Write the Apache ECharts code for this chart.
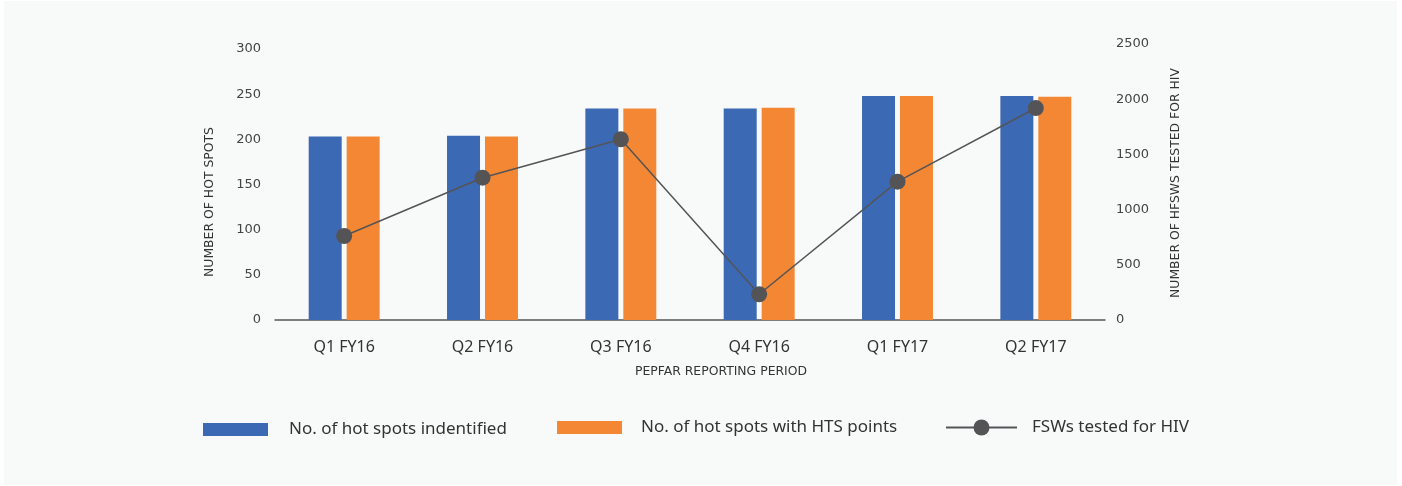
<!DOCTYPE html>
<html>
<head>
<meta charset="utf-8">
<script src="https://cdn.jsdelivr.net/npm/echarts@6/dist/echarts.min.js"></script>
<style>
  html, body { margin: 0; padding: 0; background: #fff; }
  #chart { width: 1402px; height: 486px; }
</style>
</head>
<body>
<div id="chart"></div>
<script>
const categories = ['Q1 FY16', 'Q2 FY16', 'Q3 FY16', 'Q4 FY16', 'Q1 FY17', 'Q2 FY17']
const hotSpots = [203, 204, 234, 234, 248, 248]
const hotSpotsHts = [203, 203, 234, 235, 248, 247]
const fswTested = [761, 1289, 1637, 233, 1253, 1920]

const blue = '#3c69b3'
const orange = '#f48733'
const grey = '#545456'
const font = 'Noto Sans'
const capsFont = 'DejaVu Sans'

const myChart = echarts.init(document.getElementById('chart'))

// rotated / offset axis titles are drawn as graphic text
function axisTitle(text, x, y, rotation) {
    return {
        type: 'text',
        x: x,
        y: y,
        rotation: rotation,
        style: {
            text: text,
            fill: '#333',
            font: '12.4px "DejaVu Sans"',
            align: 'center',
            verticalAlign: 'middle'
        }
    }
}

const option = {
    backgroundColor: '#fff',
    animation: false,
    textStyle: { fontFamily: font },
    graphic: [
        {
            type: 'rect',
            z: -10,
            shape: { x: 4, y: 1, width: 1393, height: 484 },
            style: { fill: '#f8fafa' }
        },
        axisTitle('NUMBER OF HOT SPOTS', 210, 202, Math.PI / 2),
        axisTitle('NUMBER OF HFSWS TESTED FOR HIV', 1176, 183, Math.PI / 2),
        axisTitle('PEPFAR REPORTING PERIOD', 721, 372, 0)
    ],
    grid: {
        left: 275,
        right: 297,
        top: 44,
        bottom: 166,
        containLabel: false
    },
    legend: [
        {
            data: ['No. of hot spots indentified'],
            left: 203,
            top: 421,
            padding: 0,
            icon: 'rect',
            itemWidth: 65,
            itemHeight: 13,
            textStyle: { fontSize: 17, color: '#333', fontFamily: font, padding: [0, 0, 0, 16] }
        },
        {
            data: ['No. of hot spots with HTS points'],
            left: 557,
            top: 419,
            padding: 0,
            icon: 'rect',
            itemWidth: 65,
            itemHeight: 13,
            textStyle: { fontSize: 17, color: '#333', fontFamily: font, padding: [0, 0, 0, 14] }
        },
        {
            data: ['FSWs tested for HIV'],
            left: 945,
            top: 419,
            padding: 0,
            itemWidth: 71,
            itemHeight: 20,
            textStyle: { fontSize: 17, color: '#333', fontFamily: font, padding: [0, 0, 0, 10] }
        }
    ],
    xAxis: {
        type: 'category',
        data: categories,
        axisLine: { lineStyle: { color: '#555', width: 1.5 } },
        axisTick: { show: false },
        axisLabel: { fontSize: 16, color: '#333', margin: 19, fontFamily: font }
    },
    yAxis: [
        {
            type: 'value',
            min: 0,
            max: 305.5,
            interval: 50,
            axisLine: { show: false },
            axisTick: { show: false },
            splitLine: { show: false },
            axisLabel: {
                fontSize: 13,
                color: '#444',
                margin: 14,
                fontFamily: capsFont,
                formatter: v => (v % 50 === 0 ? String(v) : '')
            }
        },
        {
            type: 'value',
            min: 0,
            max: 2500,
            interval: 500,
            axisLine: { show: false },
            axisTick: { show: false },
            splitLine: { show: false },
            axisLabel: {
                fontSize: 13,
                color: '#444',
                margin: 11,
                fontFamily: capsFont,
                formatter: v => String(v)
            }
        }
    ],
    series: [
        {
            name: 'No. of hot spots indentified',
            type: 'bar',
            data: hotSpots,
            barWidth: 33,
            barGap: '15%',
            itemStyle: { color: blue }
        },
        {
            name: 'No. of hot spots with HTS points',
            type: 'bar',
            data: hotSpotsHts,
            barWidth: 33,
            barGap: '15%',
            itemStyle: { color: orange }
        },
        {
            name: 'FSWs tested for HIV',
            type: 'line',
            yAxisIndex: 1,
            data: fswTested,
            symbol: 'circle',
            symbolSize: 16,
            itemStyle: { color: grey },
            lineStyle: { color: grey, width: 1.5 },
            z: 5
        }
    ]
}

myChart.setOption(option)
</script>
</body>
</html>
